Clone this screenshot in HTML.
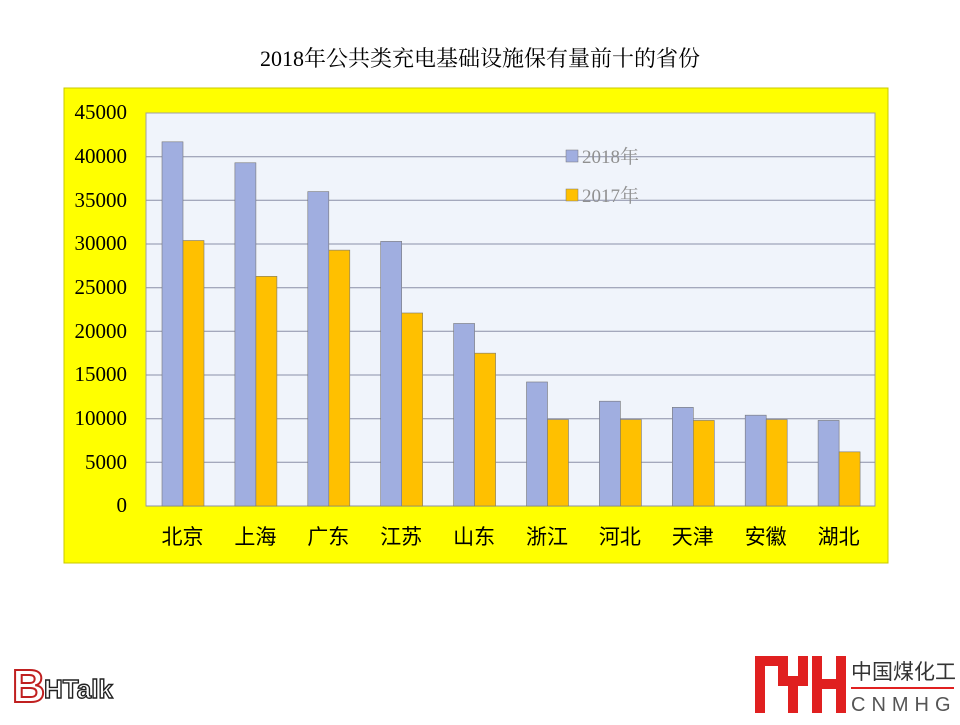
<!DOCTYPE html>
<html><head><meta charset="utf-8"><style>
body{margin:0;background:#fff;width:960px;height:720px;overflow:hidden}
</style></head><body>
<svg width="960" height="720" xmlns="http://www.w3.org/2000/svg" font-family="'Liberation Serif','Noto Serif CJK SC',serif">
<text x="480" y="66" text-anchor="middle" font-size="22" fill="#000">2018年公共类充电基础设施保有量前十的省份</text>
<rect x="64" y="88" width="824" height="475" fill="#ffff00" stroke="#c8c800"/>
<rect x="146" y="113" width="729" height="393" fill="#f0f4fb" stroke="#a0a0a0"/>
<g stroke="#8a8fa8" stroke-width="1">
<line x1="146" y1="156.7" x2="875" y2="156.7"/><line x1="146" y1="200.3" x2="875" y2="200.3"/>
<line x1="146" y1="244" x2="875" y2="244"/><line x1="146" y1="287.7" x2="875" y2="287.7"/>
<line x1="146" y1="331.3" x2="875" y2="331.3"/><line x1="146" y1="375" x2="875" y2="375"/>
<line x1="146" y1="418.7" x2="875" y2="418.7"/><line x1="146" y1="462.3" x2="875" y2="462.3"/>
<line x1="146" y1="506" x2="875" y2="506"/>
</g>
<g font-size="21" fill="#000" text-anchor="end">
<text x="127" y="119">45000</text><text x="127" y="163">40000</text><text x="127" y="207">35000</text>
<text x="127" y="250">30000</text><text x="127" y="294">25000</text><text x="127" y="338">20000</text>
<text x="127" y="381">15000</text><text x="127" y="425">10000</text><text x="127" y="469">5000</text>
<text x="127" y="512">0</text>
</g>
<g id="bars" stroke="#777" stroke-width="0.6"></g>
<g font-size="21" fill="#000" text-anchor="middle" font-family="'Liberation Sans','Noto Sans CJK SC',sans-serif" id="cats"></g>
<rect x="566" y="150" width="12" height="12" fill="#a0aee0" stroke="#777" stroke-width="0.5"/>
<text x="582" y="163" font-size="19" fill="#909090">2018年</text>
<rect x="566" y="189" width="12" height="12" fill="#ffc000" stroke="#777" stroke-width="0.5"/>
<text x="582" y="202" font-size="19" fill="#909090">2017年</text>
<text x="12" y="702" font-size="46" font-weight="bold" fill="#fff" stroke="#c02020" stroke-width="2" font-family="'Liberation Sans',sans-serif">B</text>
<text x="44" y="698" font-size="26" font-weight="bold" fill="#fff" stroke="#222" stroke-width="1.4" font-family="'Liberation Sans',sans-serif">HTalk</text>
<g fill="#e02020">
<rect x="755" y="656" width="10" height="57"/><rect x="755" y="656" width="30" height="10"/>
<rect x="778" y="656" width="10" height="30"/><rect x="788" y="676" width="10" height="37"/>
<rect x="798" y="656" width="10" height="30"/>
<rect x="812" y="656" width="10" height="57"/><rect x="822" y="679" width="14" height="10"/><rect x="836" y="656" width="10" height="57"/>
<rect x="851" y="687" width="103" height="2"/>
</g>
<text x="851" y="679" font-size="21" fill="#333" font-family="'Noto Sans CJK SC',sans-serif">中国煤化工</text>
<text x="851" y="711" font-size="20" fill="#555" letter-spacing="6" font-family="'Liberation Sans',sans-serif">CNMHG</text>
<script>
var d=[["北京",41700,30400],["上海",39300,26300],["广东",36000,29300],["江苏",30300,22100],["山东",20900,17500],["浙江",14200,9900],["河北",12000,9900],["天津",11300,9800],["安徽",10400,9900],["湖北",9800,6200]];
var b=document.getElementById("bars"),c=document.getElementById("cats"),ns="http://www.w3.org/2000/svg";
d.forEach(function(r,i){var x0=146+i*72.9+16;
[[r[1],"#a0aee0",0],[r[2],"#ffc000",21]].forEach(function(s){var h=s[0]*393/45000;var e=document.createElementNS(ns,"rect");
e.setAttribute("x",x0+s[2]);e.setAttribute("y",506-h);e.setAttribute("width",21);e.setAttribute("height",h);e.setAttribute("fill",s[1]);b.appendChild(e);});
var t=document.createElementNS(ns,"text");t.setAttribute("x",146+i*72.9+36.5);t.setAttribute("y",544);t.textContent=r[0];c.appendChild(t);});
</script>
</svg>
</body></html>
